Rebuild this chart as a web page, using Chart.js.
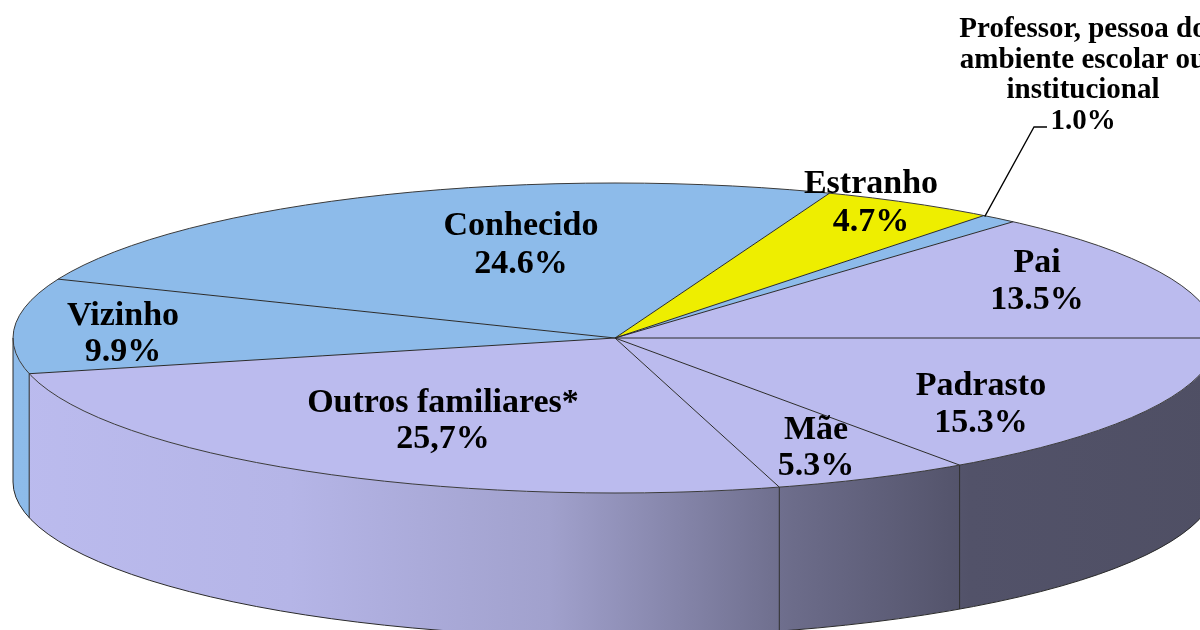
<!DOCTYPE html>
<html><head><meta charset="utf-8">
<script src="https://cdn.jsdelivr.net/npm/chart.js@4.4.1/dist/chart.umd.min.js"></script>
<style>html,body{margin:0;padding:0;background:#fff;}canvas{display:block;}</style>
</head><body>
<canvas id="c" width="1200" height="630"></canvas>
<script>
// ---- data ----
const categories = ["Padrasto", "Mãe", "Outros familiares*", "Vizinho", "Conhecido", "Estranho", "Professor, pessoa do ambiente escolar ou institucional", "Pai"];
const values = [15.3, 5.3, 25.7, 9.9, 24.6, 4.7, 1.0, 13.5];
const valueLabels = ["15.3%", "5.3%", "25,7%", "9.9%", "24.6%", "4.7%", "1.0%", "13.5%"];
const labelLines = [["Padrasto"], ["Mãe"], ["Outros familiares*"], ["Vizinho"], ["Conhecido"], ["Estranho"], ["Professor, pessoa do", "ambiente escolar ou", "institucional"], ["Pai"]];

// ---- style ----
const BLUE = [141, 187, 234], LAV = [187, 187, 238], YEL = [238, 238, 0];
const sliceColors = [LAV, LAV, LAV, BLUE, BLUE, YEL, BLUE, LAV];
const K = 155 / 602;   // vertical squash (tilt)
const DEPTH = 144;     // thickness
const shade = [[0, 1.0], [0.23, 0.97], [0.445, 0.86], [0.648, 0.58], [0.795, 0.44], [1, 0.42]];
const rgb = (c, f) => `rgb(${Math.round(c[0]*f)},${Math.round(c[1]*f)},${Math.round(c[2]*f)})`;

// label placement (center x, first baseline y, line gap, font size)
const labelPos = [
  {x: 981, y: 395, gap: 37, size: 34},
  {x: 816, y: 439, gap: 36, size: 34},
  {x: 443, y: 412, gap: 36, size: 34},
  {x: 123, y: 325, gap: 36, size: 34},
  {x: 521, y: 235, gap: 38, size: 34},
  {x: 871, y: 193, gap: 38, size: 34},
  {x: 1083, y: 37, gap: 30.5, size: 29, leader: [[1034, 127], [1047, 127]]},
  {x: 1037, y: 272, gap: 37, size: 34}
];

const pie3d = {
  id: 'pie3d',
  beforeDatasetsDraw(chart) {
    const ctx = chart.ctx;
    const meta = chart.getDatasetMeta(0);
    const a0 = meta.data[0];
    const cx = a0.x, cy = a0.y, rx = a0.outerRadius, ry = rx * K;
    // side walls (front half only)
    meta.data.forEach((arc, i) => {
      const s = Math.max(arc.startAngle, 0), e = Math.min(arc.endAngle, Math.PI);
      if (e <= s) return;
      const g = ctx.createLinearGradient(cx - rx, 0, cx + rx, 0);
      shade.forEach(([p, f]) => g.addColorStop(p, rgb(sliceColors[i], f)));
      ctx.save();
      ctx.fillStyle = g;
      ctx.beginPath();
      ctx.ellipse(cx, cy, rx, ry, 0, s, e, false);
      ctx.lineTo(cx + rx * Math.cos(e), cy + ry * Math.sin(e) + DEPTH);
      ctx.ellipse(cx, cy + DEPTH, rx, ry, 0, e, s, true);
      ctx.closePath();
      ctx.fill();
      ctx.restore();
    });
    // squash for top face
    ctx.save();
    ctx.translate(cx, cy);
    ctx.scale(1, K);
    ctx.translate(-cx, -cy);
  },
  afterDatasetsDraw(chart) {
    const ctx = chart.ctx;
    ctx.restore();
    const meta = chart.getDatasetMeta(0);
    const a0 = meta.data[0];
    const cx = a0.x, cy = a0.y, rx = a0.outerRadius, ry = rx * K;
    ctx.save();
    ctx.strokeStyle = '#2a2a2a';
    ctx.lineWidth = 1;
    // side edges and bottom rim
    ctx.beginPath();
    ctx.ellipse(cx, cy + DEPTH, rx, ry, 0, 0, Math.PI, false);
    ctx.stroke();
    const edges = [0, Math.PI];
    meta.data.forEach(arc => { if (arc.startAngle > 0 && arc.startAngle < Math.PI) edges.push(arc.startAngle); });
    edges.forEach(a => {
      const x = cx + rx * Math.cos(a), y = cy + ry * Math.sin(a);
      ctx.beginPath(); ctx.moveTo(x, y); ctx.lineTo(x, y + DEPTH); ctx.stroke();
    });
    // top rim
    ctx.strokeStyle = '#3a3a3a';
    ctx.beginPath();
    ctx.ellipse(cx, cy, rx, ry, 0, 0, Math.PI * 2);
    ctx.stroke();
    // radial edges
    ctx.strokeStyle = '#2a2a2a';
    meta.data.forEach(arc => {
      const a = arc.startAngle;
      ctx.beginPath();
      ctx.moveTo(cx, cy);
      ctx.lineTo(cx + rx * Math.cos(a), cy + ry * Math.sin(a));
      ctx.stroke();
    });
    ctx.restore();

    // labels
    ctx.save();
    ctx.fillStyle = '#000';
    ctx.textAlign = 'center';
    ctx.textBaseline = 'alphabetic';
    meta.data.forEach((arc, i) => {
      const p = labelPos[i];
      ctx.font = `bold ${p.size}px "Liberation Serif", "DejaVu Serif", serif`;
      const lines = labelLines[i].concat([valueLabels[i]]);
      lines.forEach((t, j) => ctx.fillText(t, p.x, p.y + j * p.gap));
      if (p.leader) {
        const mid = (arc.startAngle + arc.endAngle) / 2;
        ctx.strokeStyle = '#000';
        ctx.lineWidth = 1.3;
        ctx.beginPath();
        ctx.moveTo(cx + rx * Math.cos(mid) - 14, cy + ry * Math.sin(mid) - 2);
        p.leader.forEach(([x, y]) => ctx.lineTo(x, y));
        ctx.stroke();
      }
    });
    ctx.restore();
  }
};

new Chart(document.getElementById('c'), {
  type: 'pie',
  data: {
    labels: categories,
    datasets: [{
      data: values,
      backgroundColor: sliceColors.map(c => rgb(c, 1)),
      borderWidth: 0,
      radius: 602,
      clip: false
    }]
  },
  options: {
    responsive: false,
    animation: false,
    events: [],
    rotation: 90,
    layout: {padding: {left: 30, top: 46, right: 0, bottom: 0}},
    plugins: {legend: {display: false}, tooltip: {enabled: false}}
  },
  plugins: [pie3d]
});
</script>
</body></html>
